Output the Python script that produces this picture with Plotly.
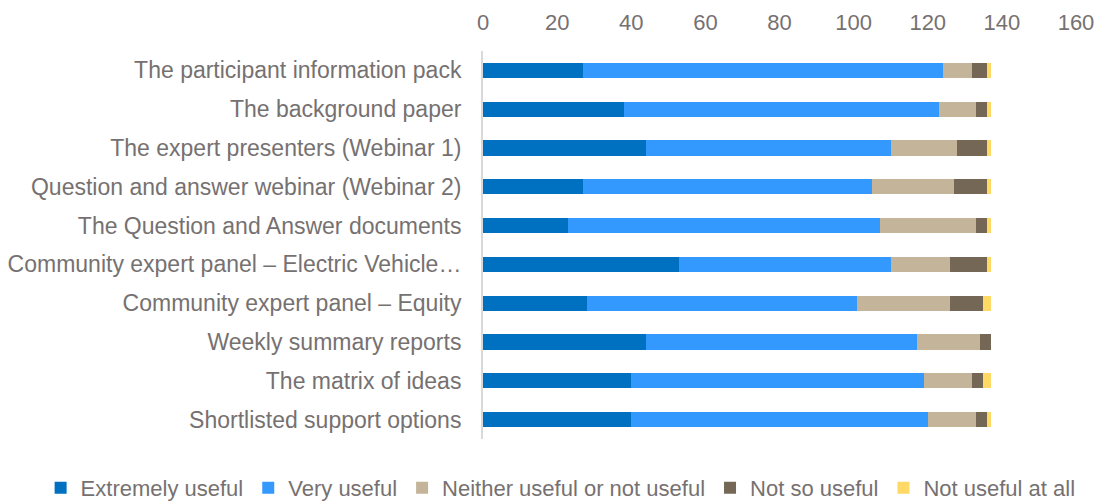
import plotly.graph_objects as go

categories = [
    "The participant information pack",
    "The background paper",
    "The expert presenters (Webinar 1)",
    "Question and answer webinar (Webinar 2)",
    "The Question and Answer documents",
    "Community expert panel – Electric Vehicle…",
    "Community expert panel – Equity",
    "Weekly summary reports",
    "The matrix of ideas",
    "Shortlisted support options",
]
extremely_useful = [27, 38, 44, 27, 23, 53, 28, 44, 40, 40]
very_useful = [97, 85, 66, 78, 84, 57, 73, 73, 79, 80]
neither = [8, 10, 18, 22, 26, 16, 25, 17, 13, 13]
not_so_useful = [4, 3, 8, 9, 3, 10, 9, 3, 3, 3]
not_useful_at_all = [1, 1, 1, 1, 1, 1, 2, 0, 2, 1]

series = [
    ("Extremely useful", extremely_useful, "#0070C0"),
    ("Very useful", very_useful, "#3399FF"),
    ("Neither useful or not useful", neither, "#C4B49A"),
    ("Not so useful", not_so_useful, "#756756"),
    ("Not useful at all", not_useful_at_all, "#FFD966"),
]

text_color = "#767171"
font_family = "Liberation Sans, Arial, sans-serif"

fig = go.Figure()
for name, vals, color in series:
    fig.add_trace(go.Bar(
        y=categories, x=vals, name=name, orientation="h",
        marker=dict(color=color, line=dict(width=0)),
    ))

fig.update_layout(
    barmode="stack",
    width=1103, height=504,
    margin=dict(l=483, r=27, t=51, b=65, autoexpand=False),
    paper_bgcolor="white", plot_bgcolor="white",
    font=dict(family=font_family, size=22, color=text_color),
    xaxis=dict(
        side="top", range=[0, 160], tick0=0, dtick=20,
        showgrid=False, zeroline=False, showline=False,
        tickfont=dict(size=22, color=text_color), ticks="",
        ticklabelstandoff=16,
    ),
    yaxis=dict(
        autorange="reversed", showgrid=False, zeroline=False,
        showline=True, linecolor="#D9D9D9", linewidth=2,
        ticks="", ticklabelstandoff=15,
        tickfont=dict(size=23, color=text_color),
    ),
    legend=dict(
        orientation="h",
        x=-0.746, xanchor="left", y=-0.126, yanchor="middle",
        font=dict(size=22, color=text_color), traceorder="normal",
        itemwidth=30, tracegroupgap=0,
    ),
    bargap=0.61,
)

fig.write_html("out.html")
